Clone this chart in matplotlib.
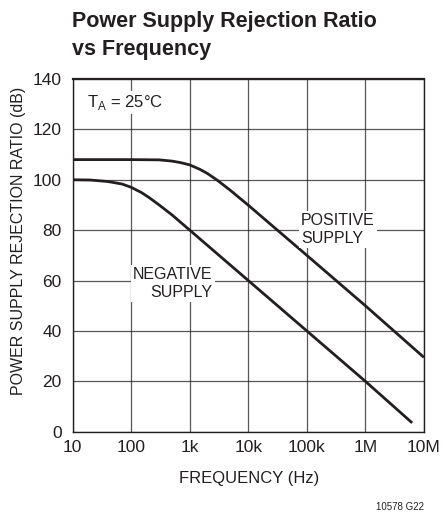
import matplotlib.pyplot as plt

# curves (frequency in Hz, PSRR in dB)
pos_freq = [10, 100, 300, 500, 700, 1000, 1500, 2000, 3000, 5000, 10000, 100000, 1000000, 10000000]
pos_db = [108, 108, 107.9, 107.4, 106.8, 105.9, 104.1, 102.5, 99.7, 95.7, 89.9, 70.0, 50.0, 29.5]

neg_freq = [10, 20, 40, 70, 100, 150, 200, 300, 500, 1000, 10000, 100000, 1000000, 6300000]
neg_db = [100, 99.9, 99.3, 98.3, 97.0, 94.9, 93.0, 90.0, 86.0, 80.0, 60.0, 40.0, 20.0, 3.5]

x_ticks = [10, 100, 1000, 10000, 100000, 1000000, 10000000]
x_labels = ["10", "100", "1k", "10k", "100k", "1M", "10M"]
y_ticks = [0, 20, 40, 60, 80, 100, 120, 140]

plt.rcParams["font.family"] = ["Liberation Sans", "DejaVu Sans"]
ink = "#231f20"

fig = plt.figure(figsize=(4.42, 5.15), dpi=100)
ax = fig.add_axes([0.1645, 0.1618, 0.7945, 0.6848])

ax.plot(pos_freq, pos_db, color=ink, lw=2.0, solid_capstyle="butt", zorder=3)
ax.plot(neg_freq, neg_db, color=ink, lw=2.0, solid_capstyle="butt", zorder=3)

ax.set_xscale("log")
ax.set_xlim(10, 1e7)
ax.set_ylim(0, 140)
ax.set_xticks(x_ticks)
ax.set_xticklabels(x_labels)
ax.set_yticks(y_ticks)
ax.minorticks_off()
ax.tick_params(length=0, labelsize=12.5, colors=ink)
ax.tick_params(axis="y", pad=8)
ax.tick_params(axis="x", pad=6)
ax.grid(True, color=ink, lw=0.9, alpha=0.75)
ax.set_axisbelow(True)
for s in ax.spines.values():
    s.set_color(ink)
    s.set_linewidth(1.0)
ax.spines["top"].set_linewidth(1.6)

fig.text(249 / 442, 1 - 478 / 515, "FREQUENCY (Hz)", fontsize=12, ha="center", va="center", color=ink)
fig.text(18.5 / 442, 1 - 241 / 515, "POWER SUPPLY REJECTION RATIO (dB)", fontsize=11.5,
         rotation=90, ha="center", va="center", color=ink)

box = dict(facecolor="white", edgecolor="none", pad=1.5)
ax.text(17.3, 130.5, "T$_\\mathregular{A}$ = 25°C", fontsize=12, va="center", ha="left",
        color=ink, bbox=box, zorder=4)
ax.text(7.9e4, 80.3, "POSITIVE\nSUPPLY", fontsize=11.5, va="center", ha="left",
        linespacing=1.3, color=ink, bbox=box, zorder=4)
ax.text(2.47e3, 58.8, "NEGATIVE\nSUPPLY", fontsize=11.5, va="center", ha="right",
        multialignment="right", linespacing=1.3, color=ink, bbox=box, zorder=4)

fig.text(72 / 442, 1 - 27.3 / 515, "Power Supply Rejection Ratio", fontsize=15.5,
         fontweight="bold", va="baseline", ha="left", color=ink)
fig.text(72 / 442, 1 - 55 / 515, "vs Frequency", fontsize=15.5,
         fontweight="bold", va="baseline", ha="left", color=ink)
fig.text(424 / 442, 1 - 510 / 515, "10578 G22", fontsize=7, ha="right", va="baseline", color=ink)

fig.savefig("out.png", dpi=100)
